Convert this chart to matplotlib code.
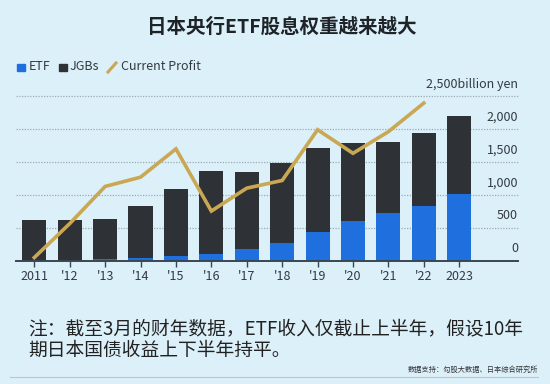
import matplotlib
matplotlib.use("Agg")
import matplotlib.pyplot as plt
import numpy as np
from matplotlib.patches import Rectangle
from matplotlib.lines import Line2D

plt.rcParams['font.family'] = ['Noto Sans CJK SC', 'DejaVu Sans']

# data (billion yen)
years = ['2011', "'12", "'13", "'14", "'15", "'16", "'17", "'18", "'19", "'20", "'21", "'22", '2023']
etf = [3, 8, 27, 42, 68, 109, 179, 276, 436, 603, 730, 836, 1007]
jgbs = [611, 606, 602, 788, 1020, 1262, 1172, 1212, 1279, 1182, 1070, 1111, 1193]
profit = [48, 564, 1129, 1270, 1700, 755, 1103, 1220, 1992, 1633, 1962, 2397]
yticks = [0, 500, 1000, 1500, 2000, 2500]

bg = '#dcf0fa'
c_etf = '#1f6fde'
c_jgb = '#2e3236'
c_line = '#c9a753'

W, H = 550, 384
fig = plt.figure(figsize=(5.5, 3.84), dpi=100, facecolor=bg)

def fx(px):
    return px / W

def fy(py):
    return 1 - py / H

# axes placed in pixel terms
ax = fig.add_axes([fx(16), fy(260.7), fx(518 - 16), (260.7 - 96.3) / H])
ax.set_facecolor(bg)
x = np.arange(len(years))
ax.set_xlim(-0.517, 13.66)
ax.set_ylim(0, 2500)

for v in yticks[1:]:
    ax.axhline(v, color='#9eaab2', lw=0.9, ls=(0, (1, 1.2)), zorder=0, clip_on=False)

ax.bar(x, etf, width=0.68, color=c_etf, zorder=2)
ax.bar(x, jgbs, width=0.68, bottom=etf, color=c_jgb, zorder=2)
ax.plot(x[:len(profit)], profit, color=c_line, lw=2.6, zorder=3, clip_on=False,
        solid_joinstyle='miter')

for s in ['top', 'right', 'left']:
    ax.spines[s].set_visible(False)
ax.spines['bottom'].set_color('#3a4650')
ax.spines['bottom'].set_linewidth(1.4)
ax.spines['bottom'].set_zorder(4)
ax.set_yticks([])
ax.set_xticks(x)
ax.set_xticklabels(years, fontsize=9, color='#333a40')
ax.tick_params(axis='x', length=4, width=1, color='#3a4650', pad=3)

for v in yticks[:-1]:
    ax.annotate(f'{v:,}', xy=(1.0, v), xycoords=('axes fraction', 'data'),
                xytext=(0, 4), textcoords='offset points',
                ha='right', va='bottom', fontsize=9, color='#333a40')
ax.annotate('2,500billion yen', xy=(1.0, 2500), xycoords=('axes fraction', 'data'),
            xytext=(0, 4), textcoords='offset points',
            ha='right', va='bottom', fontsize=9, color='#333a40')

# title
fig.text(fx(282), fy(27), '日本央行ETF股息权重越来越大', ha='center', va='center',
         fontsize=14, fontweight='bold', color='#1e2328')

# legend drawn by hand
fig.patches.append(Rectangle((fx(17), fy(71)), fx(7.5), 7.5 / H, color=c_etf,
                             transform=fig.transFigure, figure=fig))
fig.text(fx(29), fy(67), 'ETF', ha='left', va='center', fontsize=9, color='#333a40')
fig.patches.append(Rectangle((fx(59), fy(71)), fx(7.5), 7.5 / H, color=c_jgb,
                             transform=fig.transFigure, figure=fig))
fig.text(fx(70), fy(67), 'JGBs', ha='left', va='center', fontsize=9, color='#333a40')
fig.lines.append(Line2D([fx(108), fx(116)], [fy(72), fy(63)], color=c_line, lw=2.2,
                        transform=fig.transFigure, figure=fig))
fig.text(fx(121), fy(67), 'Current Profit', ha='left', va='center', fontsize=9,
         color='#333a40')

# footnote
fig.text(fx(28), fy(329), '注：截至3月的财年数据，ETF收入仅截止上半年，假设10年',
         ha='left', va='center', fontsize=13.5, color='#222222')
fig.text(fx(28), fy(350), '期日本国债收益上下半年持平。',
         ha='left', va='center', fontsize=13.5, color='#222222')
fig.text(fx(538), fy(370), '数据支持：勾股大数据、日本综合研究所', ha='right', va='center',
         fontsize=5.2, color='#333333')
fig.lines.append(Line2D([fx(10), fx(538)], [fy(377), fy(377)], color='#b8c8d2', lw=0.8,
                        transform=fig.transFigure, figure=fig))

fig.savefig('out.png', dpi=100, facecolor=bg)
